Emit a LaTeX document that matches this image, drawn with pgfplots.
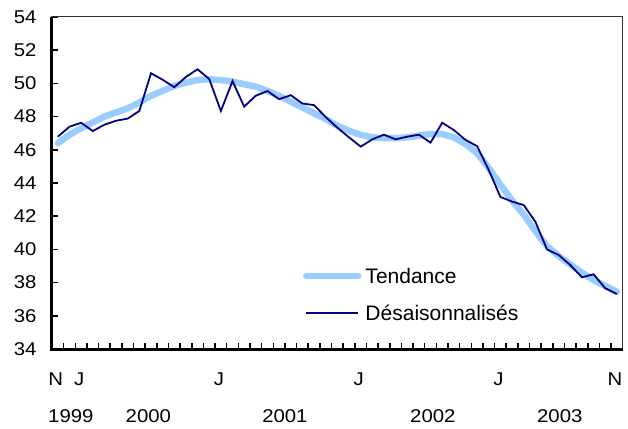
\documentclass[border=0pt]{standalone}
\usepackage{pgfplots}
\pgfplotsset{compat=1.18}
\usepackage{pgfplotstable}
\usepackage{fontspec}
\setmainfont{Liberation Sans}
\newfontfamily\tickfont[FakeStretch=1.1]{Liberation Sans}
\definecolor{trendblue}{RGB}{153,204,255}
\definecolor{navyline}{RGB}{0,0,128}

\pgfplotstableread{
m val
0 46.79
1 47.39
2 47.63
3 47.13
4 47.51
5 47.75
6 47.88
7 48.34
8 50.61
9 50.22
10 49.77
11 50.39
12 50.85
13 50.26
14 48.34
15 50.14
16 48.60
17 49.26
18 49.54
19 49.05
20 49.29
21 48.79
22 48.69
23 47.97
24 47.33
25 46.75
26 46.19
27 46.63
28 46.91
29 46.63
30 46.79
31 46.91
32 46.43
33 47.63
34 47.19
35 46.60
36 46.22
37 44.78
38 43.16
39 42.88
40 42.67
41 41.67
42 40.00
43 39.66
44 39.06
45 38.32
46 38.50
47 37.66
48 37.31
}\sadata

\pgfplotstableread{
m val
0 46.40
1 46.90
2 47.30
3 47.65
4 48.00
5 48.25
6 48.50
7 48.85
8 49.25
9 49.55
10 49.85
11 50.05
12 50.20
13 50.25
14 50.20
15 50.10
16 49.95
17 49.80
18 49.55
19 49.25
20 48.90
21 48.55
22 48.20
23 47.85
24 47.45
25 47.15
26 46.90
27 46.75
28 46.70
29 46.70
30 46.75
31 46.85
32 46.95
33 46.95
34 46.75
35 46.35
36 45.80
37 44.90
38 43.90
39 42.95
40 42.10
41 41.10
42 40.20
43 39.60
44 39.10
45 38.60
46 38.15
47 37.80
48 37.45
}\trenddata

\begin{document}
\begin{tikzpicture}
\begin{axis}[
  at={(0pt,0pt)}, anchor=south west,
  scale only axis,
  width=570.7pt, height=332pt,
  xmin=-0.5, xmax=48.5,
  ymin=34, ymax=54,
  ytick={34,36,...,54},
  xtick={-0.5,0.5,...,48.5},
  xticklabels={},
  extra x ticks={0,2,14,26,38,48},
  extra x tick labels={N,J,J,J,J,N},
  extra x tick style={major tick length=0pt,
     xticklabel style={anchor=base, yshift=-36pt, xshift=-2pt}},
  xtick pos=bottom, ytick pos=left,
  tick align=inside,
  major tick length=6pt,
  tick style={line width=1.5pt, black},
  axis line style={line width=1pt, black!80},
  /pgf/number format/assume math mode=true,
  every tick label/.append style={font=\tickfont\fontsize{18.5}{22}\selectfont},
  yticklabel style={xshift=-12pt},
  clip=false,
  legend cell align=left,
  legend image code/.code={\draw[#1] (0pt,0pt) -- (52pt,0pt);},
  legend style={draw=none, fill=none, inner sep=0pt, outer sep=0pt,
     at={(rel axis cs:0.4398,0.2425)}, anchor=north west,
     row sep=22pt, column sep=4pt,
     font=\fontsize{21}{25}\selectfont,
     nodes={inner sep=0pt, text height=15pt, text depth=0pt}},
]
\addplot[trendblue, line width=6.5pt, line join=round, line cap=round] table[x=m,y=val] {\trenddata};
\addlegendentry{Tendance}
\addplot[navyline, line width=1.8pt, line join=miter] table[x=m,y=val] {\sadata};
\addlegendentry{Désaisonnalisés}
\draw[line width=3pt, black] (rel axis cs:0,1) -- (rel axis cs:0,0) -- (rel axis cs:1,0);
\node[anchor=base, font=\tickfont\fontsize{18.5}{22}\selectfont, inner sep=0pt, yshift=-73pt] at (axis cs:1.12,34) {1999};
\node[anchor=base, font=\tickfont\fontsize{18.5}{22}\selectfont, inner sep=0pt, yshift=-73pt] at (axis cs:7.77,34) {2000};
\node[anchor=base, font=\tickfont\fontsize{18.5}{22}\selectfont, inner sep=0pt, yshift=-73pt] at (axis cs:19.5,34) {2001};
\node[anchor=base, font=\tickfont\fontsize{18.5}{22}\selectfont, inner sep=0pt, yshift=-73pt] at (axis cs:32.2,34) {2002};
\node[anchor=base, font=\tickfont\fontsize{18.5}{22}\selectfont, inner sep=0pt, yshift=-73pt] at (axis cs:43.1,34) {2003};
\end{axis}
\pgfresetboundingbox
\path[use as bounding box] (-52pt,-79pt) rectangle (576pt,349pt);
\end{tikzpicture}
\end{document}
